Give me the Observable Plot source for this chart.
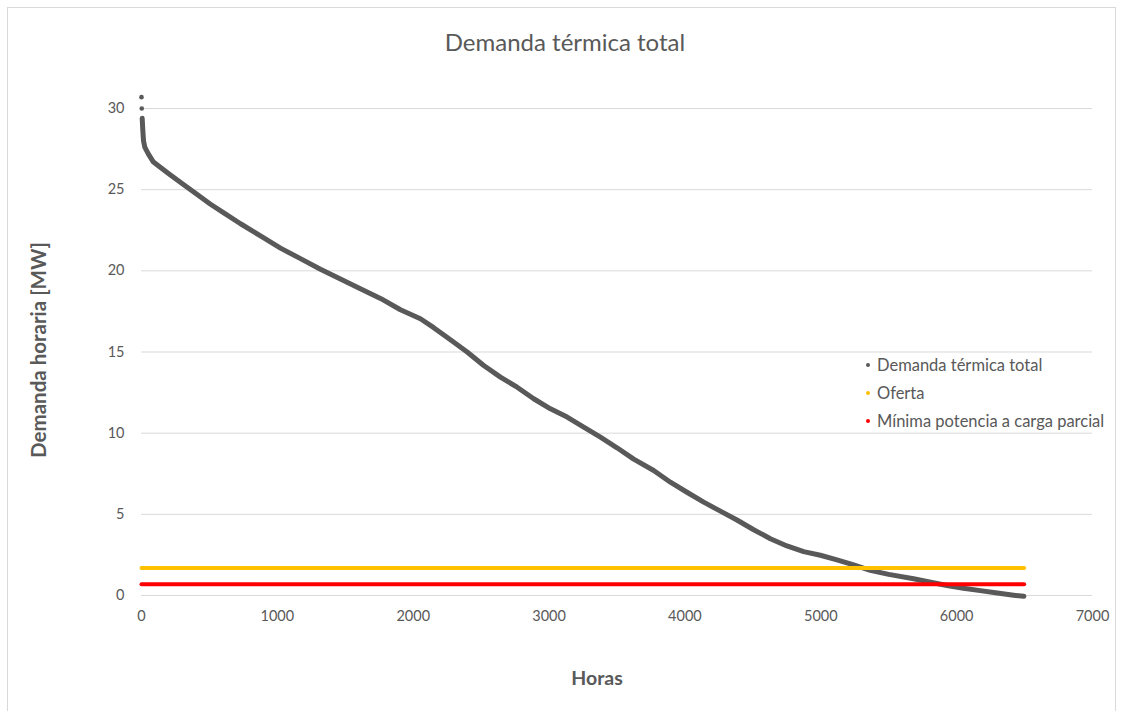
<!DOCTYPE html>
<html>
<head>
<meta charset="utf-8">
<script src="https://cdn.jsdelivr.net/npm/d3@7"></script>
<script src="https://cdn.jsdelivr.net/npm/@observablehq/plot@0.6"></script>
<style>
  html, body { margin: 0; padding: 0; background: #fff; }
  #wrap { position: relative; width: 1124px; height: 711px; overflow: hidden; font-family: Lato, "Open Sans", sans-serif; color: #595959; }
  #frame { position: absolute; left: 7px; top: 7px; width: 1109px; height: 720px; border: 1px solid #d9d9d9; box-sizing: border-box; }
  #title { position: absolute; left: 0; width: 1130px; top: 27px; text-align: center; font-size: 24px; font-weight: 400; }
  #ylab { position: absolute; left: 38px; top: 350px; transform: translate(-50%, -50%) rotate(-90deg); white-space: nowrap; font-size: 20.5px; font-weight: 700; }
  #xlab { position: absolute; left: 597px; top: 677px; transform: translate(-50%, -50%); font-size: 19.5px; font-weight: 700; }
  #legend { position: absolute; left: 866px; top: 351px; font-size: 16.5px; }
  .lg { height: 28px; display: flex; align-items: center; white-space: nowrap; }
  .sw { width: 4px; height: 4px; border-radius: 2px; margin-right: 7px; }
  #chart { position: absolute; left: 0; top: 0; }
</style>
</head>
<body>
<div id="wrap">
  <div id="frame"></div>
  <div id="chart"></div>
  <div id="title"></div>
  <div id="ylab"></div>
  <div id="xlab"></div>
  <div id="legend"></div>
</div>
<script>
const titleText = "Demanda térmica total";
const yLabel = "Demanda horaria [MW]";
const xLabel = "Horas";
const seriesNames = ["Demanda térmica total", "Oferta", "Mínima potencia a carga parcial"];
const seriesColors = ["#595959", "#FFC000", "#FF0000"];

const xTicks = [0, 1000, 2000, 3000, 4000, 5000, 6000, 7000];
const yTicks = [0, 5, 10, 15, 20, 25, 30];

// Demand duration curve (hours, MW)
const hours = [0, 2, 5, 10, 15, 25, 50, 88, 150, 213, 311, 410, 508, 600, 729, 876, 1023, 1170, 1317, 1464, 1611, 1759, 1906, 2053, 2151, 2274, 2397, 2519, 2642, 2765, 2887, 3010, 3133, 3255, 3378, 3500, 3623, 3770, 3893, 4015, 4138, 4261, 4383, 4506, 4629, 4751, 4874, 4997, 5119, 5242, 5364, 5500, 5683, 5800, 5929, 6050, 6174, 6300, 6419, 6495];
const demand = [30.7, 30.0, 29.4, 28.6, 28.0, 27.6, 27.2, 26.7, 26.3, 25.9, 25.3, 24.7, 24.1, 23.6, 22.9, 22.15, 21.4, 20.75, 20.1, 19.5, 18.9, 18.3, 17.6, 17.05, 16.5, 15.75, 15.0, 14.17, 13.45, 12.83, 12.12, 11.5, 10.99, 10.37, 9.75, 9.1, 8.4, 7.7, 6.98, 6.36, 5.75, 5.2, 4.65, 4.05, 3.5, 3.05, 2.7, 2.48, 2.2, 1.88, 1.55, 1.3, 1.03, 0.83, 0.62, 0.45, 0.3, 0.15, 0.02, -0.05];

// Horizontal reference series
const refHours = [0, 6497];
const oferta = [1.7, 1.7];
const minima = [0.7, 0.7];

const curve = hours.map((h, i) => ({h, v: demand[i]}));
const ofertaData = refHours.map((h, i) => ({h, v: oferta[i]}));
const minimaData = refHours.map((h, i) => ({h, v: minima[i]}));

const plot = Plot.plot({
  width: 1124,
  height: 711,
  marginLeft: 141,
  marginRight: 32,
  marginTop: 108,
  marginBottom: 116,
  style: {fontFamily: "Lato, 'Open Sans', sans-serif", fontSize: "14.5px", color: "#595959", background: "transparent", overflow: "visible"},
  x: {domain: [0, 7000]},
  y: {domain: [0, 30]},
  marks: [
    Plot.gridY(yTicks, {stroke: "#d9d9d9", strokeOpacity: 1, strokeWidth: 1}),
    Plot.axisY(yTicks, {tickSize: 0, tickPadding: 17, label: null, fill: "#595959", fontSize: 14.5, tickFormat: d => String(d)}),
    Plot.axisX(xTicks, {tickSize: 0, tickPadding: 15, label: null, fill: "#595959", fontSize: 14.5, tickFormat: d => String(d)}),
    Plot.line(curve.filter(d => d.h >= 5), {x: "h", y: "v", stroke: seriesColors[0], strokeWidth: 5, strokeLinecap: "round", strokeLinejoin: "round", clip: false}),
    Plot.dot(curve.filter(d => d.h < 5), {x: "h", y: "v", r: 2.3, fill: seriesColors[0], stroke: "none"}),
    Plot.line(ofertaData, {x: "h", y: "v", stroke: seriesColors[1], strokeWidth: 4}),
    Plot.line(minimaData, {x: "h", y: "v", stroke: seriesColors[2], strokeWidth: 4})
  ]
});
document.getElementById("chart").appendChild(plot);

document.getElementById("title").textContent = titleText;
document.getElementById("ylab").textContent = yLabel;
document.getElementById("xlab").textContent = xLabel;
const lg = document.getElementById("legend");
seriesNames.forEach((n, i) => {
  const row = document.createElement("div");
  row.className = "lg";
  const sw = document.createElement("div");
  sw.className = "sw";
  sw.style.background = seriesColors[i];
  const t = document.createElement("span");
  t.textContent = n;
  row.appendChild(sw); row.appendChild(t);
  lg.appendChild(row);
});
</script>
</body>
</html>
